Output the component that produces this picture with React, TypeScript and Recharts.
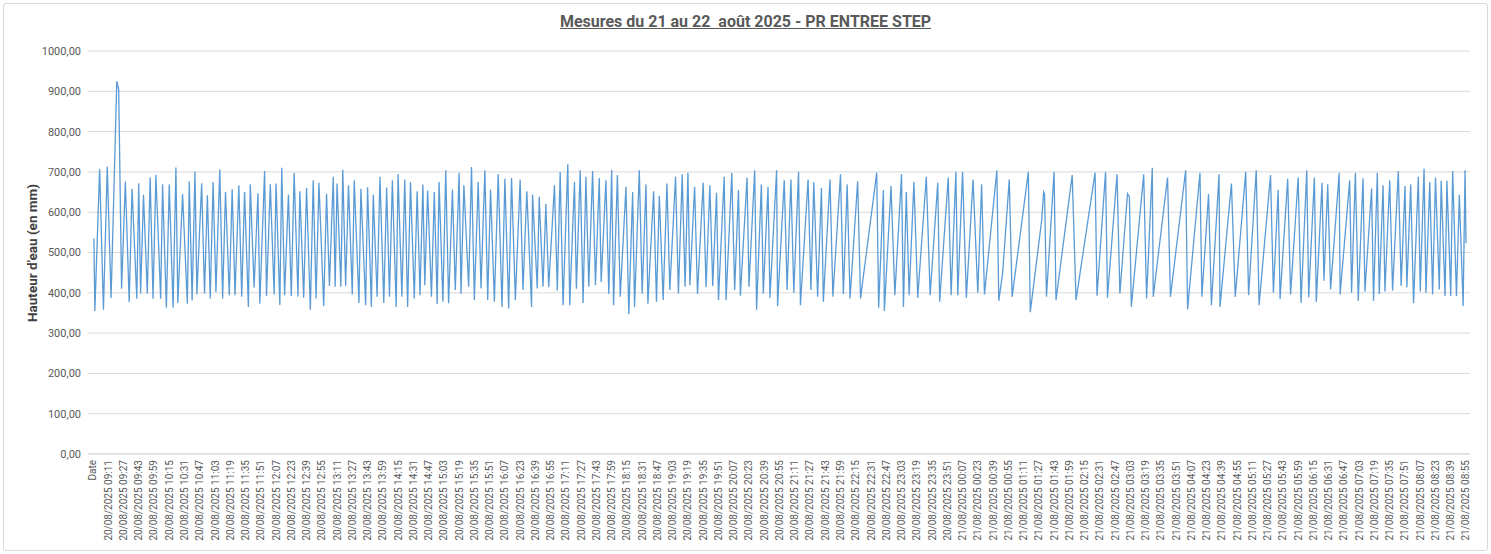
import React from "react";
import { LineChart, Line, XAxis, YAxis, CartesianGrid } from "recharts";

// tick labels: one every 16 minutes
const day1Times = [
  "09:11", "09:27", "09:43", "09:59", "10:15", "10:31", "10:47", "11:03", "11:19", "11:35",
  "11:51", "12:07", "12:23", "12:39", "12:55", "13:11", "13:27", "13:43", "13:59", "14:15",
  "14:31", "14:47", "15:03", "15:19", "15:35", "15:51", "16:07", "16:23", "16:39", "16:55",
  "17:11", "17:27", "17:43", "17:59", "18:15", "18:31", "18:47", "19:03", "19:19", "19:35",
  "19:51", "20:07", "20:23", "20:39", "20:55", "21:11", "21:27", "21:43", "21:59", "22:15",
  "22:31", "22:47", "23:03", "23:19", "23:35", "23:51",
];
const day2Times = [
  "00:07", "00:23", "00:39", "00:55", "01:11", "01:27", "01:43", "01:59", "02:15", "02:31",
  "02:47", "03:03", "03:19", "03:35", "03:51", "04:07", "04:23", "04:39", "04:55", "05:11",
  "05:27", "05:43", "05:59", "06:15", "06:31", "06:47", "07:03", "07:19", "07:35", "07:51",
  "08:07", "08:23", "08:39", "08:55",
];
const tickLabels = [
  "Date",
  ...day1Times.map((t) => "20/08/2025 " + t),
  ...day2Times.map((t) => "21/08/2025 " + t),
];

// minute index (1 = 20/08 08:56) of each turning point of the curve
const minuteIndex = [
  1, 2, 7, 11, 15, 19, 25, 27, 30, 34, 38, 41, 46, 48, 50, 53, 57, 60, 63, 66,
  71, 73, 77, 80, 84, 87, 89, 94, 99, 101, 104, 107, 109, 114, 117, 120, 123, 126, 129, 133,
  136, 139, 143, 146, 149, 153, 156, 159, 163, 165, 169, 173, 175, 180, 182, 186, 190, 192, 196, 198,
  201, 205, 208, 211, 215, 217, 221, 224, 228, 231, 234, 237, 242, 245, 248, 252, 254, 256, 260, 262,
  265, 268, 272, 274, 279, 281, 286, 288, 292, 294, 298, 301, 305, 308, 311, 314, 318, 320, 324, 327,
  330, 333, 337, 340, 343, 346, 348, 351, 355, 358, 361, 363, 367, 370, 373, 377, 380, 384, 386, 389,
  394, 397, 400, 404, 407, 411, 414, 417, 421, 425, 429, 432, 436, 439, 443, 448, 451, 455, 460, 461,
  466, 468, 472, 475, 478, 484, 487, 490, 493, 498, 500, 505, 507, 511, 514, 517, 520, 524, 527, 531,
  533, 538, 541, 544, 546, 550, 553, 559, 562, 566, 568, 573, 576, 580, 582, 588, 591, 594, 598, 602,
  605, 611, 614, 618, 621, 624, 626, 631, 634, 640, 643, 647, 650, 654, 656, 662, 664, 670, 673, 677,
  679, 686, 688, 694, 696, 701, 703, 708, 710, 717, 718, 725, 728, 732, 735, 740, 742, 750, 753, 756,
  760, 764, 766, 773, 776, 784, 787, 791, 794, 802, 805, 822, 824, 829, 830, 837, 841, 848, 850, 853,
  856, 861, 865, 874, 878, 886, 888, 897, 900, 905, 907, 912, 916, 923, 928, 932, 935, 948, 950, 954,
  961, 964, 981, 983, 995, 997, 998, 1000, 1008, 1010, 1027, 1031, 1051, 1053, 1062, 1064, 1074, 1077, 1085, 1087,
  1089, 1102, 1105, 1111, 1112, 1127, 1130, 1146, 1148, 1161, 1163, 1170, 1173, 1181, 1182, 1194, 1198, 1209, 1212, 1220,
  1223, 1235, 1238, 1243, 1245, 1253, 1256, 1264, 1267, 1273, 1275, 1281, 1283, 1289, 1291, 1295, 1298, 1307, 1308, 1318,
  1320, 1324, 1327, 1332, 1334, 1341, 1343, 1347, 1349, 1353, 1355, 1360, 1363, 1369, 1372, 1376, 1378, 1382, 1385, 1390,
  1392, 1396, 1398, 1402, 1405, 1408, 1412, 1414, 1418, 1420, 1424, 1426, 1430, 1433, 1437, 1439, 1440,
];

// water height (mm) at those points
const waterLevel = [
  535, 355, 707, 358, 713, 387, 925, 904, 410, 676, 377, 658, 385, 672, 398, 643, 398, 686, 385, 693,
  385, 669, 363, 669, 363, 711, 375, 645, 373, 676, 381, 701, 396, 672, 398, 642, 386, 675, 402, 706,
  386, 650, 394, 657, 394, 667, 390, 650, 365, 669, 413, 647, 373, 702, 392, 669, 396, 671, 370, 710,
  394, 644, 392, 698, 391, 652, 388, 660, 358, 679, 386, 673, 367, 646, 417, 688, 415, 671, 415, 705,
  417, 667, 396, 679, 375, 658, 369, 662, 365, 644, 390, 688, 375, 661, 390, 679, 365, 694, 390, 681,
  365, 675, 386, 652, 394, 669, 419, 654, 390, 650, 372, 675, 378, 704, 374, 656, 407, 698, 397, 667,
  415, 712, 382, 675, 411, 704, 382, 656, 378, 694, 365, 683, 361, 685, 382, 681, 407, 652, 365, 644,
  411, 638, 415, 620, 414, 667, 406, 700, 369, 719, 369, 675, 410, 704, 375, 688, 415, 702, 419, 685,
  427, 679, 397, 705, 369, 692, 390, 663, 347, 650, 365, 704, 398, 669, 373, 652, 378, 640, 382, 671,
  407, 688, 398, 694, 415, 698, 419, 663, 397, 673, 414, 667, 417, 648, 382, 688, 382, 698, 407, 655,
  393, 686, 415, 704, 358, 669, 398, 663, 388, 704, 367, 679, 407, 681, 400, 700, 369, 681, 407, 675,
  390, 660, 378, 681, 390, 694, 397, 669, 386, 677, 386, 698, 363, 655, 355, 665, 394, 694, 365, 650,
  394, 675, 388, 688, 394, 673, 378, 686, 394, 700, 394, 700, 388, 681, 400, 669, 396, 704, 380, 448,
  681, 390, 700, 352, 580, 650, 645, 390, 700, 382, 692, 382, 698, 393, 700, 388, 694, 398, 646, 638,
  365, 694, 386, 710, 390, 686, 390, 704, 359, 698, 390, 645, 369, 694, 365, 671, 390, 700, 394, 704,
  369, 692, 400, 655, 385, 683, 396, 686, 375, 704, 389, 686, 377, 673, 430, 669, 408, 698, 396, 679,
  400, 698, 380, 684, 403, 659, 380, 698, 397, 667, 403, 679, 406, 702, 417, 665, 413, 669, 374, 688,
  403, 708, 400, 675, 396, 686, 408, 678, 392, 678, 392, 702, 392, 643, 367, 704, 523,
];

const yTicks = [0, 100, 200, 300, 400, 500, 600, 700, 800, 900, 1000];

const data = minuteIndex.map((m, i) => ({ m, level: waterLevel[i] }));
const xTicks = tickLabels.map((_, i) => i * 16);

const fmt = (v: number) => v.toFixed(2).replace(".", ",");

const XTick = (props: any) => {
  const { x, y, payload } = props;
  const label = tickLabels[Math.round(payload.value / 16)];
  return (
    <text
      x={x}
      y={y}
      transform={`rotate(-90, ${x}, ${y})`}
      textAnchor="end"
      dy="0.35em"
      fontSize={10}
      fill="#595959"
    >
      {label}
    </text>
  );
};

export default function App() {
  return (
    <div
      style={{
        position: "absolute",
        left: 0,
        top: 0,
        width: 1491,
        height: 554,
        background: "#fff",
        fontFamily: "Roboto, sans-serif",
      }}
    >
      <div
        style={{
          position: "absolute",
          left: 3,
          top: 3,
          width: 1483,
          height: 546,
          border: "1px solid #d9d9d9",
          borderRadius: 3,
        }}
      />
      <div
        style={{
          position: "absolute",
          left: 0,
          width: 1491,
          top: 12,
          textAlign: "center",
          fontSize: 16,
          fontWeight: "bold",
          color: "#595959",
          textDecoration: "underline",
          whiteSpace: "pre",
        }}
      >
        {"Mesures du 21 au 22  août 2025 - PR ENTREE STEP"}
      </div>
      <div
        style={{
          position: "absolute",
          left: 32,
          top: 253,
          transform: "translate(-50%, -50%) rotate(-90deg)",
          fontSize: 13.5,
          fontWeight: "bold",
          color: "#404040",
          whiteSpace: "nowrap",
        }}
      >
        Hauteur d'eau (en mm)
      </div>
      <LineChart
        width={1491}
        height={554}
        data={data}
        margin={{ top: 51, right: 21, left: 8, bottom: 5 }}
        style={{ position: "absolute", left: 0, top: 0 }}
      >
        <CartesianGrid vertical={false} stroke="#d9d9d9" />
        <XAxis
          dataKey="m"
          type="number"
          domain={[-5.2, 1444.2]}
          allowDataOverflow
          ticks={xTicks}
          interval={0}
          tick={<XTick />}
          tickLine={false}
          tickSize={0}
          tickMargin={6}
          height={95}
          axisLine={{ stroke: "#d9d9d9" }}
        />
        <YAxis
          type="number"
          domain={[0, 1000]}
          ticks={yTicks}
          tickFormatter={fmt}
          width={80}
          axisLine={false}
          tickLine={false}
          tickSize={0}
          tickMargin={7}
          tick={{ fontSize: 11, fill: "#595959" }}
        />
        <Line
          dataKey="level"
          type="linear"
          stroke="#5b9bd5"
          strokeWidth={1.3}
          dot={false}
          isAnimationActive={false}
        />
      </LineChart>
    </div>
  );
}
